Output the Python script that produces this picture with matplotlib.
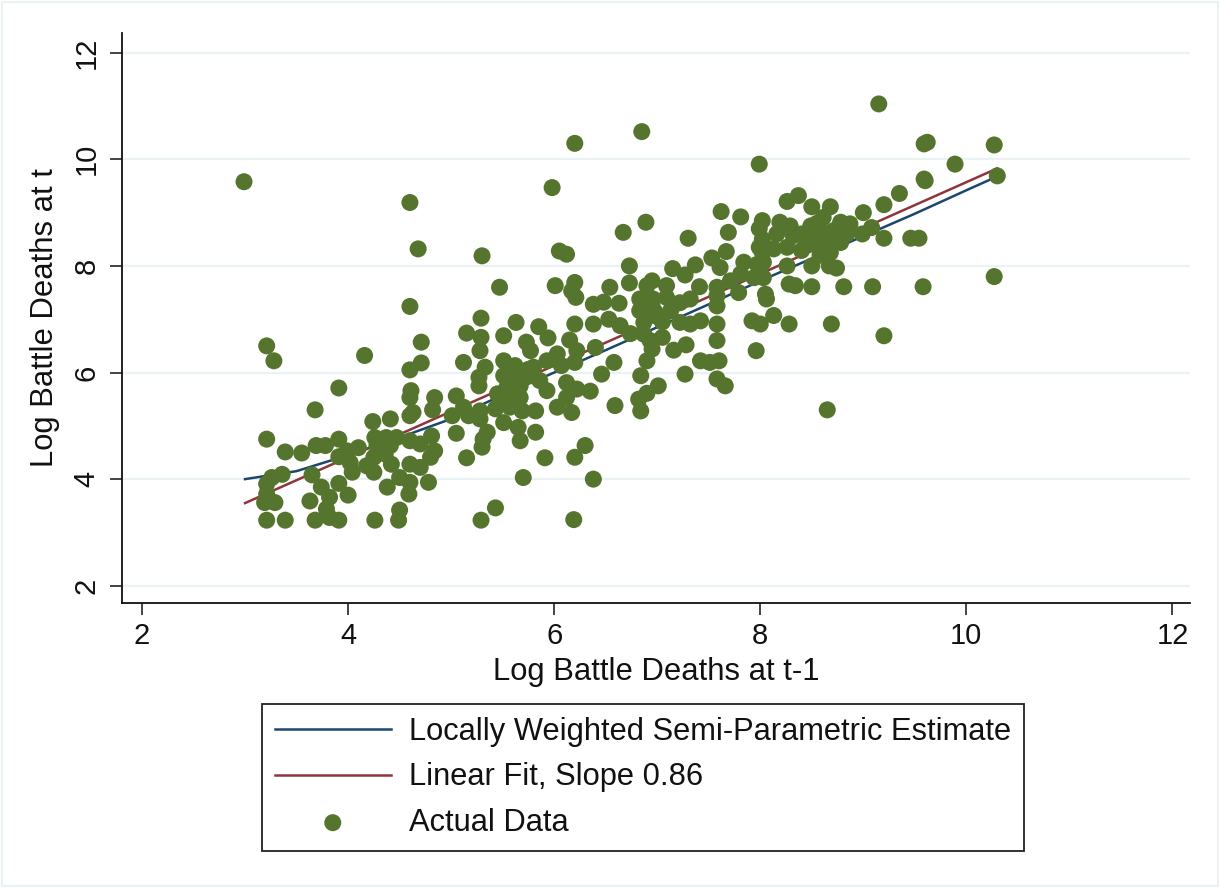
import numpy as np
import matplotlib
matplotlib.use('Agg')
import matplotlib.pyplot as plt
from matplotlib.patches import Rectangle

plt.rcParams['font.family'] = ['Liberation Sans', 'DejaVu Sans']

# scatter data (log battle deaths at t-1, at t)
x_pts = [
    3.21, 3.28, 4.16, 4.71, 4.71, 4.60, 3.91, 4.61, 4.60, 4.84, 3.68, 4.82, 4.60, 4.63, 4.24, 4.41,
    3.21, 3.39, 3.55, 3.69, 3.78, 3.91, 3.99, 4.10, 3.91, 4.02, 4.04, 4.26, 4.37, 4.47, 4.28, 4.41,
    4.36, 4.25, 4.18, 4.25, 4.42, 4.60, 4.70, 4.81, 4.84, 4.60, 4.70, 4.80, 3.36, 3.26, 3.21, 3.21,
    3.29, 3.19, 3.65, 3.74, 3.82, 3.91, 4.00, 3.63, 3.79, 3.82, 3.21, 3.39, 3.68, 3.91, 4.26, 4.49,
    4.50, 4.38, 4.50, 4.60, 4.59, 4.78,
    2.99, 4.60, 4.68, 4.60,
    5.29, 5.63, 5.85, 6.20, 6.38, 5.15, 5.29, 5.51, 5.73, 5.94, 6.15, 5.77, 5.28, 6.03, 6.22, 6.40,
    5.93, 6.07, 6.20, 5.12, 5.33, 5.51, 5.62, 5.75, 6.46, 5.27, 5.51, 5.64, 5.77, 5.86, 5.27, 5.54,
    5.67, 5.93, 6.12, 6.35, 6.22, 5.05, 6.12, 5.54, 5.67, 6.03, 6.17, 5.12, 5.01, 5.17, 5.28, 5.43,
    5.57, 5.69, 5.82, 5.28, 5.51, 5.65, 5.05, 5.35, 5.82, 5.31, 5.67, 5.30, 6.30, 5.15, 5.91, 6.20,
    5.70, 6.38, 5.43, 5.29, 6.19, 5.60, 5.70, 5.45, 5.80,
    6.20, 6.85, 5.98, 6.05, 6.12, 6.89, 7.62, 7.81, 5.30, 5.47, 6.01, 6.20, 6.17, 6.21, 6.38, 6.48,
    6.67, 7.30, 7.69, 7.99, 7.99, 7.67, 7.53, 6.73, 7.15, 7.37, 7.27, 7.84, 7.97, 7.61, 6.54, 6.73,
    6.90, 6.95, 7.09, 7.41, 7.58, 7.71, 7.81, 7.94, 7.79, 6.63, 6.83, 6.96, 7.09, 7.22, 7.32, 7.58,
    7.58, 6.83, 6.98, 7.13, 7.22, 7.32, 7.42, 7.58, 6.53, 6.64, 6.74, 6.87, 6.87, 6.93, 7.05, 6.95,
    6.90, 7.16, 7.28, 7.58, 7.42, 7.51, 7.60, 7.92, 8.00, 7.96, 6.58, 6.84, 7.27, 7.58, 7.66, 7.01,
    6.90, 6.82, 6.84, 6.59, 7.00, 7.05, 6.95,
    9.35, 8.26, 8.37, 8.50, 8.68, 9.20, 9.00, 8.19, 8.29, 8.49, 8.61, 8.78, 8.87, 9.08, 8.02, 8.16,
    8.32, 8.49, 8.60, 8.71, 8.84, 8.99, 9.20, 9.46, 9.54, 8.02, 8.13, 8.26, 8.40, 8.52, 8.65, 8.78,
    8.68, 8.02, 8.03, 8.26, 8.50, 8.67, 8.74, 8.03, 8.28, 8.34, 8.50, 8.81, 9.09, 9.58, 8.05, 8.06,
    8.13, 8.28, 8.69, 9.20, 8.55, 8.62, 8.70, 8.45, 8.58, 8.40, 8.75,
    9.15, 9.59, 9.62, 10.27, 7.99, 9.89, 10.30, 9.60, 9.59, 10.27, 8.65,
]
y_pts = [
    6.50, 6.22, 6.32, 6.57, 6.18, 6.05, 5.71, 5.66, 5.53, 5.53, 5.30, 5.30, 5.19, 5.25, 5.08, 5.13,
    4.75, 4.51, 4.49, 4.63, 4.63, 4.75, 4.53, 4.59, 4.42, 4.31, 4.13, 4.78, 4.78, 4.78, 4.63, 4.63,
    4.47, 4.41, 4.25, 4.13, 4.28, 4.72, 4.66, 4.81, 4.53, 4.28, 4.22, 4.41, 4.09, 4.03, 3.91, 3.72,
    3.56, 3.56, 4.08, 3.85, 3.66, 3.92, 3.70, 3.59, 3.44, 3.28, 3.23, 3.23, 3.23, 3.23, 3.23, 3.23,
    3.42, 3.85, 4.03, 3.94, 3.72, 3.94,
    9.58, 9.19, 8.32, 7.24,
    7.02, 6.94, 6.86, 6.91, 6.91, 6.74, 6.66, 6.69, 6.57, 6.65, 6.61, 6.41, 6.41, 6.35, 6.41, 6.47,
    6.22, 6.13, 6.19, 6.19, 6.10, 6.22, 6.13, 6.06, 5.97, 5.91, 5.94, 5.91, 5.94, 5.85, 5.75, 5.72,
    5.75, 5.66, 5.81, 5.65, 5.69, 5.56, 5.53, 5.53, 5.53, 5.35, 5.25, 5.35, 5.19, 5.19, 5.28, 5.32,
    5.35, 5.28, 5.28, 5.13, 5.06, 4.97, 4.86, 4.88, 4.88, 4.75, 4.72, 4.60, 4.63, 4.40, 4.40, 4.41,
    4.03, 4.00, 3.46, 3.23, 3.24, 5.80, 6.00, 5.60, 6.10,
    10.30, 10.52, 9.47, 8.28, 8.22, 8.82, 9.02, 8.92, 8.19, 7.60, 7.63, 7.69, 7.53, 7.41, 7.28, 7.32,
    8.63, 8.52, 8.63, 8.70, 8.35, 8.27, 8.15, 8.00, 7.95, 8.02, 7.83, 8.07, 8.03, 7.97, 7.60, 7.68,
    7.63, 7.72, 7.63, 7.61, 7.60, 7.72, 7.85, 7.78, 7.50, 7.30, 7.38, 7.38, 7.41, 7.31, 7.38, 7.25,
    7.44, 7.16, 7.13, 7.16, 6.94, 6.91, 6.97, 6.91, 7.00, 6.88, 6.73, 6.94, 6.72, 6.60, 6.66, 6.44,
    6.22, 6.42, 6.52, 6.60, 6.22, 6.19, 6.22, 6.97, 6.91, 6.41, 6.19, 5.94, 5.97, 5.88, 5.75, 5.75,
    5.61, 5.50, 5.28, 5.38, 7.05, 6.95, 7.25,
    9.36, 9.21, 9.32, 9.11, 9.11, 9.15, 9.00, 8.82, 8.75, 8.75, 8.91, 8.82, 8.79, 8.72, 8.85, 8.60,
    8.57, 8.54, 8.63, 8.66, 8.60, 8.60, 8.52, 8.52, 8.52, 8.50, 8.32, 8.35, 8.29, 8.41, 8.35, 8.44,
    8.25, 8.25, 8.07, 8.00, 8.00, 8.00, 7.96, 7.78, 7.66, 7.63, 7.61, 7.61, 7.61, 7.61, 7.47, 7.38,
    7.07, 6.91, 6.91, 6.69, 8.80, 8.45, 8.55, 8.45, 8.20, 8.60, 8.70,
    11.04, 10.29, 10.32, 10.27, 9.91, 9.91, 9.69, 9.60, 9.63, 7.80, 5.30,
]

# locally weighted (lowess) estimate
lowess_x = [3.0, 3.5, 4.0, 4.5, 5.0, 5.5, 6.0, 6.5, 7.0, 7.5, 8.0, 8.5, 9.0, 9.5, 10.0, 10.3]
lowess_y = [4.0, 4.15, 4.45, 4.78, 5.13, 5.58, 6.0, 6.42, 6.85, 7.28, 7.72, 8.14, 8.56, 8.98, 9.42, 9.68]

# linear fit, slope 0.86
fit_x = [3.0, 10.3]
fit_y = [3.55, 9.83]

navy = '#1a476f'
maroon = '#90353b'
green = '#55752f'
grid_col = '#eaf2f3'

fig = plt.figure(figsize=(12.2, 8.88), dpi=100)
ax = fig.add_axes([0.1, 0.3209, 0.8754, 0.6419])

ax.plot(lowess_x, lowess_y, color=navy, lw=1.8, zorder=2,
        label='Locally Weighted Semi-Parametric Estimate')
ax.plot(fit_x, fit_y, color=maroon, lw=1.8, zorder=2,
        label='Linear Fit, Slope 0.86')
ax.scatter(x_pts, y_pts, s=150, color=green, edgecolors='none', zorder=3,
           label='Actual Data')

ax.set_xlim(1.806, 12.17)
ax.set_ylim(1.675, 12.37)
ax.set_xticks([2, 4, 6, 8, 10, 12])
ax.set_yticks([2, 4, 6, 8, 10, 12])
ax.grid(axis='y', color=grid_col, lw=1.6, zorder=0)
ax.set_axisbelow(True)

for s in ['top', 'right']:
    ax.spines[s].set_visible(False)
for s in ['left', 'bottom']:
    ax.spines[s].set_linewidth(1.3)
    ax.spines[s].set_color('#111111')

ax.tick_params(axis='both', length=8.5, width=1.1, color='#111111',
               labelsize=21, labelcolor='#111111')
ax.tick_params(axis='x', pad=5)
ax.tick_params(axis='y', pad=7)
for lab in ax.get_yticklabels():
    lab.set_rotation(90)
    lab.set_va('center')

ax.set_xlabel('Log Battle Deaths at t-1', fontsize=22.3, color='#111111', labelpad=5)
ax.set_ylabel('Log Battle Deaths at t', fontsize=22.3, color='#111111', labelpad=9)

leg = fig.legend(loc='upper left', bbox_to_anchor=(262/1220, 1 - 704/888),
                 fontsize=22.2, frameon=True, fancybox=False, framealpha=1,
                 edgecolor='#222222', handlelength=3.75, handletextpad=0.6,
                 borderpad=0.42, labelspacing=0.5, borderaxespad=0)
leg.get_frame().set_linewidth(1.3)
for t in leg.get_texts():
    t.set_color('#111111')

# faint outer frame of the graph region
fig.patches.append(Rectangle((0.002, 0.002), 0.996, 0.996, transform=fig.transFigure,
                             fill=False, edgecolor=grid_col, lw=1.5))

fig.savefig('out.png', dpi=100)
